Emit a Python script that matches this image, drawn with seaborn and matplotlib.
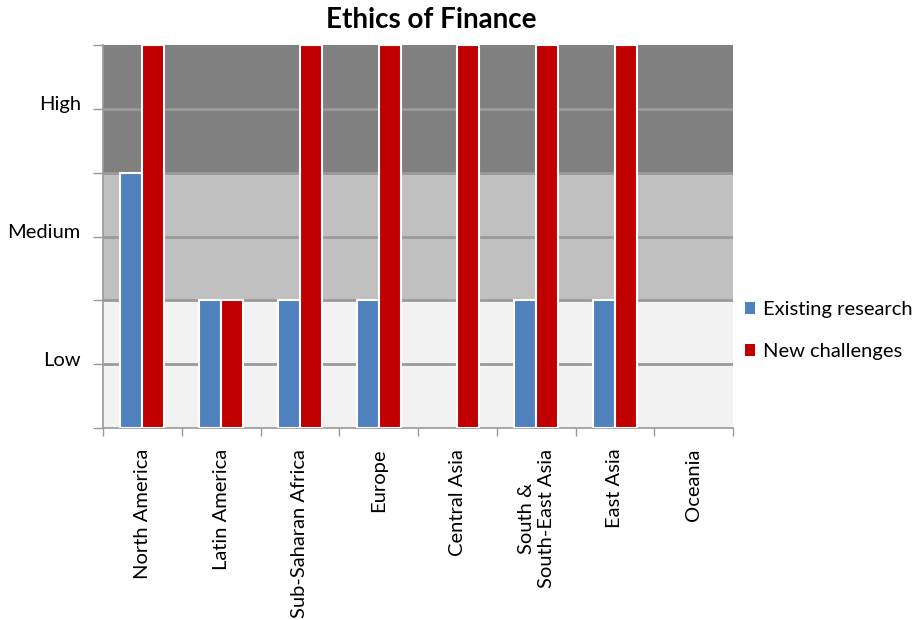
import matplotlib
matplotlib.use("Agg")
import matplotlib.pyplot as plt
import matplotlib.transforms as mtransforms
from matplotlib.patches import Patch
import seaborn as sns
import pandas as pd
import numpy as np

regions = ["North America", "Latin America", "Sub-Saharan Africa", "Europe",
           "Central Asia", "South &\nSouth-East Asia", "East Asia", "Oceania"]
existing_research = [2, 1, 1, 1, 0, 1, 1, 0]
new_challenges = [3, 1, 3, 3, 3, 3, 3, 0]
series_names = ["Existing research", "New challenges"]
level_labels = ["Low", "Medium", "High"]
level_positions = [0.5, 1.5, 2.5]

df = pd.DataFrame({
    "region": regions * 2,
    "value": existing_research + new_challenges,
    "series": [series_names[0]] * len(regions) + [series_names[1]] * len(regions),
})

sns.set_theme(style="white")
plt.rcParams["font.family"] = ["Lato", "DejaVu Sans"]
plt.rcParams["text.color"] = "black"
plt.rcParams["xtick.color"] = "black"
plt.rcParams["ytick.color"] = "black"

colors = {"Existing research": "#4f81bd", "New challenges": "#c00000"}
label_size = 14.5

fig = plt.figure(figsize=(9.18, 6.2), dpi=100)
ax = fig.add_axes([103 / 918, 1 - 428 / 620, 630 / 918, 383 / 620])

# background level bands
ax.axhspan(0, 1, color="#f2f2f2", zorder=0)
ax.axhspan(1, 2, color="#c0c0c0", zorder=0)
ax.axhspan(2, 3, color="#808080", zorder=0)
for yv in np.arange(0.5, 3.0, 0.5):
    ax.axhline(yv, color="#9a9a9a", lw=2, zorder=1)

sns.barplot(data=df, x="region", y="value", hue="series", order=regions,
            hue_order=series_names, palette=colors, width=0.56,
            edgecolor="white", linewidth=1.5, saturation=1, legend=False,
            ax=ax, zorder=3)

# empty bars leave no visible mark
for bar in ax.patches:
    if bar.get_height() == 0:
        bar.set_visible(False)

ax.set_xlim(-0.5, len(regions) - 0.5)
ax.set_ylim(0, 3)
ax.set_xlabel("")
ax.set_ylabel("")

# y axis: ticks every half level, labels at band centres
ticks = np.arange(0, 3.01, 0.5)
ax.set_yticks(ticks)
tick_text = ["" for _ in ticks]
for pos, lab in zip(level_positions, level_labels):
    tick_text[int(round(pos * 2))] = lab
ax.set_yticklabels(tick_text, fontsize=label_size, va="center")
ax.tick_params(axis="y", which="major", direction="out", length=7, width=1,
               color="#9a9a9a", pad=9, left=True)
lift = mtransforms.ScaledTranslation(0, 4 / 100, fig.dpi_scale_trans)
for lab in ax.get_yticklabels():
    lab.set_transform(lab.get_transform() + lift)

# x axis: ticks at category boundaries, labels at centres
ax.set_xticks(np.arange(len(regions)))
ax.set_xticklabels(regions, rotation=90, fontsize=label_size, va="top", ha="center",
                   multialignment="center")
ax.tick_params(axis="x", which="major", length=0, pad=15)
ax.set_xticks(np.arange(-0.5, len(regions), 1.0), minor=True)
ax.tick_params(axis="x", which="minor", direction="out", length=6, width=1,
               color="#9a9a9a", bottom=True)

for side in ["top", "right"]:
    ax.spines[side].set_visible(False)
for side in ["left", "bottom"]:
    ax.spines[side].set_color("#9a9a9a")
    ax.spines[side].set_linewidth(1.2)

handles = [Patch(facecolor=colors[s], edgecolor="none", label=s) for s in series_names]
fig.legend(handles=handles, loc="upper left", bbox_to_anchor=(737 / 918, 1 - 293 / 620),
           frameon=False, fontsize=label_size, handlelength=0.5, handleheight=0.5,
           handletextpad=0.4, labelspacing=1.25, borderaxespad=0)

fig.text(431 / 918, 1 - 20 / 620, "Ethics of Finance", ha="center", va="center",
         fontsize=20, fontweight="bold")

fig.savefig("out.png", dpi=100)
